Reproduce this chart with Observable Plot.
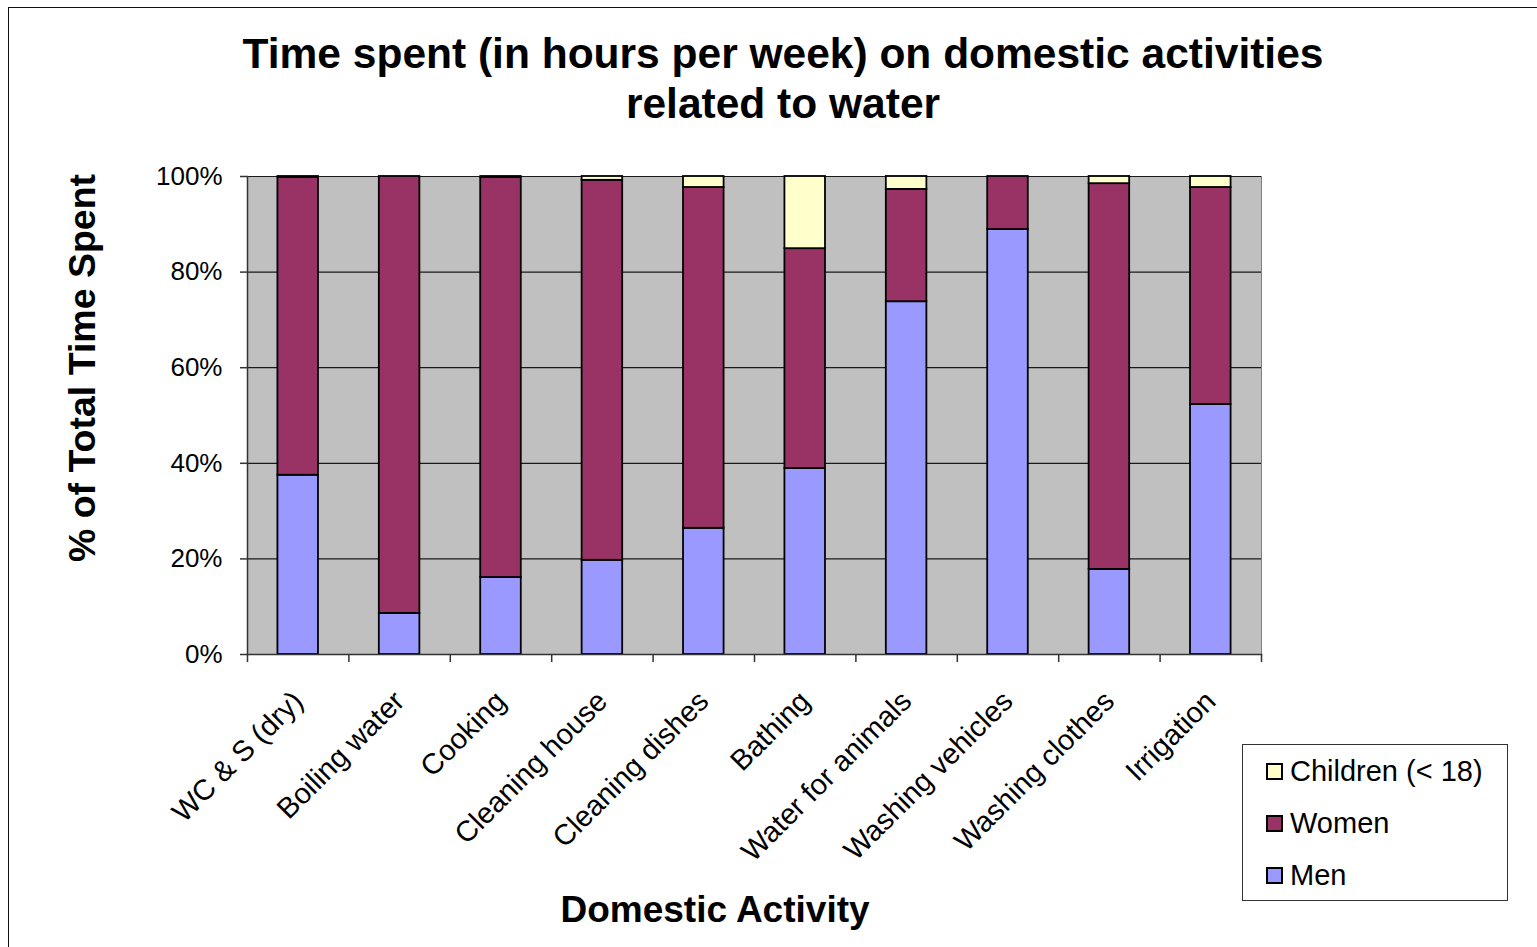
<!DOCTYPE html>
<html>
<head>
<meta charset="utf-8">
<script src="https://cdn.jsdelivr.net/npm/d3@7"></script>
<script src="https://cdn.jsdelivr.net/npm/@observablehq/plot@0.6"></script>
<style>
  html, body { margin: 0; padding: 0; background: #fff; }
  body { font-family: "Liberation Sans", Arial, sans-serif; }
  #page { position: relative; width: 1537px; height: 947px; overflow: hidden; background: #fff; }
  #border { position: absolute; left: 8px; top: 7px; width: 1600px; height: 1000px; border: 1.5px solid #111; }
  #title { position: absolute; left: 0; width: 1566px; top: 29px; text-align: center; font-weight: bold; font-size: 42.5px; line-height: 50px; color: #000; }
  #chart { position: absolute; left: 0; top: 140px; }
  #ytitle { position: absolute; left: 82px; top: 368px; transform: translate(-50%, -50%) rotate(-90deg); white-space: nowrap; font-weight: bold; font-size: 37.5px; }
  #xtitle { position: absolute; left: 715px; top: 910px; transform: translate(-50%, -50%); white-space: nowrap; font-weight: bold; font-size: 37px; }
  #legend { position: absolute; left: 1242px; top: 744px; width: 264px; height: 155px; border: 1.5px solid #333; background: #fff; }
  .item { position: absolute; left: 23px; height: 32px; display: flex; align-items: center; font-size: 29px; white-space: nowrap; }
  .sw { width: 13px; height: 13px; border: 2px solid #000; margin-right: 7px; }
</style>
</head>
<body>
<div id="page">
  <div id="border"></div>
  <div id="title">Time spent (in hours per week) on domestic activities<br>related to water</div>
  <div id="chart"></div>
  <div id="ytitle">% of Total Time Spent</div>
  <div id="xtitle">Domestic Activity</div>
  <div id="legend"></div>
</div>
<script>
const categories = ["WC & S (dry)", "Boiling water", "Cooking", "Cleaning house", "Cleaning dishes",
  "Bathing", "Water for animals", "Washing vehicles", "Washing clothes", "Irrigation"];
const men      = [37.5,  8.6, 16.1, 19.7, 26.4, 38.9, 73.8, 88.9, 17.8, 52.3];
const women    = [62.3, 91.4, 83.7, 79.5, 71.3, 46.0, 23.5, 11.1, 80.7, 45.4];
const children = [ 0.2,  0.0,  0.2,  0.8,  2.3, 15.1,  2.7,  0.0,  1.5,  2.3];
const seriesNames = ["Men", "Women", "Children (< 18)"];
const seriesColors = ["#9999FF", "#993366", "#FFFFCC"];
const yTicks = [0, 20, 40, 60, 80, 100];

const seriesValues = [men, women, children];
const data = [];
seriesNames.forEach((s, si) => {
  categories.forEach((c, ci) => data.push({activity: c, group: s, value: seriesValues[si][ci]}));
});

const W = 1537, H = 740, mL = 247, mR = 276, mT = 36, mB = 226;
const step = (W - mL - mR) / categories.length;
const font = '"Liberation Sans", Arial, sans-serif';

const chart = Plot.plot({
  width: W, height: H,
  marginLeft: mL, marginRight: mR, marginTop: mT, marginBottom: mB,
  style: {fontFamily: font, fontSize: "24px", color: "#000", background: "transparent", overflow: "visible"},
  x: {domain: categories, paddingInner: 0.6, paddingOuter: 0.3, round: false, label: null},
  y: {domain: [0, 100], label: null},
  color: {domain: seriesNames, range: seriesColors},
  marks: [
    Plot.frame({fill: "#C0C0C0", stroke: "#808080"}),
    Plot.gridY(yTicks, {stroke: "#1a1a1a", strokeOpacity: 1, strokeWidth: 1.2}),
    Plot.barY(data, {x: "activity", y: "value", fill: "group", order: seriesNames,
      stroke: "#000", strokeWidth: 1.8}),
    Plot.frame({anchor: "left", stroke: "#333", strokeWidth: 1.5}),
    Plot.frame({anchor: "bottom", stroke: "#333", strokeWidth: 1.5}),
    Plot.axisY({ticks: yTicks, tickFormat: d => d + "%", tickSize: 7, tickPadding: 18,
      fontSize: 26, stroke: "#333", strokeWidth: 1.5}),
    Plot.axisX({ticks: categories, tickSize: 8, tickFormat: () => "", dx: -step / 2,
      stroke: "#333", strokeWidth: 1.5}),
    Plot.axisX({ticks: categories.slice(-1), tickSize: 8, tickFormat: () => "", dx: step / 2,
      stroke: "#333", strokeWidth: 1.5}),
    Plot.axisX({ticks: categories, tickSize: 0, tickPadding: 42, tickRotate: -45,
      textAnchor: "end", fontSize: 29, dx: 0})
  ]
});
document.getElementById("chart").appendChild(chart);

const legend = document.getElementById("legend");
const legendOrder = [2, 1, 0];
legendOrder.forEach((si, i) => {
  const item = document.createElement("div");
  item.className = "item";
  item.style.top = (10 + i * 52) + "px";
  const sw = document.createElement("div");
  sw.className = "sw";
  sw.style.background = seriesColors[si];
  const tx = document.createElement("span");
  tx.textContent = seriesNames[si];
  item.appendChild(sw); item.appendChild(tx);
  legend.appendChild(item);
});
</script>
</body>
</html>
